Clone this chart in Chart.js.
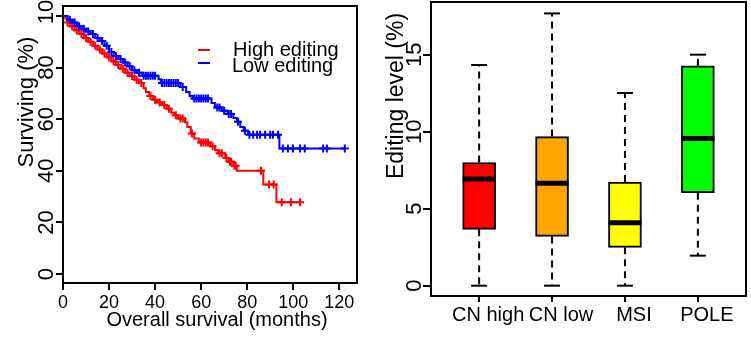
<!DOCTYPE html>
<html><head><meta charset="utf-8">
<script src="https://cdn.jsdelivr.net/npm/chart.js@4/dist/chart.umd.min.js"></script>
<style>
html,body{margin:0;padding:0;background:#fff;}
#wrap{position:relative;width:751px;height:339px;overflow:hidden;background:#fff;}
.p{position:absolute;top:0;}
</style></head><body>
<div id="wrap">
<div class="p" style="left:0;width:370px;height:339px"><canvas id="c1" width="370" height="339"></canvas></div>
<div class="p" style="left:370px;width:381px;height:339px"><canvas id="c2" width="381" height="339"></canvas></div>
</div>
<script>
// ---------- Kaplan-Meier data (month, survival %) ----------
const highEvents = [[0,100],[1,99],[2,97.5],[3,96],[5,94.5],[7,93],[9,91.5],[11,90],[13,88.5],[15,87],[17,85.5],[19,84],[21,82.5],[23,81],[25,79.5],[27,78],[29,76.7],[31,75.3],[33,74],[35,72],[36,70.5],[37.5,69],[39,67.5],[41,66.5],[43,65.5],[45,64],[47,62.5],[48.5,61.5],[50,60.3],[53,58.8],[54,57],[55.5,54.5],[57,52.5],[59,51],[64,49.5],[66,48],[67.5,46.8],[70.5,45],[72,43.5],[74,42],[75.5,40],[87,34.7],[92.7,27.8]];
const highCensor = [2,4,6,8,10,12,14,16,18,20,22,24,26,28,30,32,34,38,40,42,44,46,49,51,52,56,60,61,62,63,65,68,69,71,72.5,73,74.5,75,86,89.5,91.5,95,99,103];
const lowEvents = [[0,100],[2,98.5],[4,97.5],[6,96],[8,95],[10,94],[12,93],[14,91.5],[16,90.3],[18,88.5],[20,86],[22,84.5],[24,83.3],[26,82],[28,80.5],[30,79],[32,78],[34.5,76.8],[41.5,75.5],[42.5,74],[51,72.5],[53.5,70.5],[55,69],[56.5,68],[64.5,66.3],[66,64.5],[69,63.3],[71.5,62],[74,60.5],[75.5,59],[77,57],[78.5,55.5],[80.4,54],[94,48.6]];
const lowCensor = [3,5,7,9,11,13,15,17,19,21,23,25,27,29,31,33,35,36,37,38,39,40,43,44,45,46,47,48,49,50,52,57,58,59,60,61,62,63,67,68,70,72,73,76,79,81,82.6,84.3,85.6,87.8,90,91.2,93.4,95.5,97.7,99.9,103,105,113,114.6,122.4];
const kmTicksX = [0,20,40,60,80,100,120];
const kmTicksY = [0,20,40,60,80,100];
const seriesNames = ['High editing','Low editing'];

// ---------- Box plot data (editing level %) ----------
const boxCategories = ['CN high','CN low','MSI','POLE'];
const whiskerLow  = [0,0,0,1.95];
const q1          = [3.66,3.2,2.49,6.04];
const median      = [6.93,6.65,4.09,9.56];
const q3          = [8.0,9.68,6.73,14.27];
const whiskerHigh = [14.33,17.68,12.51,15.0];
const boxTicksY = [0,5,10,15];

const FONT = '"Liberation Sans", Arial, Helvetica, sans-serif';
Chart.defaults.font.family = FONT;
Chart.defaults.color = '#000';
Chart.defaults.animation = false;

function survAt(ev, t){ let s = ev[0][1]; for (const [m,p] of ev){ if (m <= t) s = p; else break; } return s; }
function lineData(ev, cens){ const pts = ev.map(([m,p])=>({x:m,y:p})); const last = cens[cens.length-1]; pts.push({x:last,y:survAt(ev,last)}); return pts; }
function censData(ev, cens){ return cens.map(t=>({x:t,y:survAt(ev,t)})); }

function rotText(ctx, txt, x, y, size){
  ctx.save(); ctx.translate(x,y); ctx.rotate(-Math.PI/2);
  ctx.font = size+'px '+FONT; ctx.fillStyle='#000'; ctx.textAlign='center'; ctx.textBaseline='middle';
  ctx.fillText(txt,0,0); ctx.restore();
}

const frame = {id:'frame', afterDraw(c){ const a=c.chartArea, ctx=c.ctx; ctx.save(); ctx.strokeStyle='#000'; ctx.lineWidth=2; ctx.strokeRect(a.left,a.top,a.right-a.left,a.bottom-a.top); ctx.restore(); }};

const kmDecor = {id:'kmDecor', afterDraw(c){
  const ctx=c.ctx, ys=c.scales.y;
  kmTicksY.forEach(v=>{ let y = ys.getPixelForValue(v); if (v===100) y -= 10; rotText(ctx, String(v), 47, y, 22); });
  rotText(ctx, 'Surviving (%)', 27, 102, 22);
  ctx.save();
  ctx.font='20px '+FONT; ctx.fillStyle='#000'; ctx.textBaseline='middle'; ctx.textAlign='center';
  ctx.fillText('Overall survival (months)', 217, 320);
  // legend
  ctx.lineWidth=2;
  [['#ff0000',50],['#0000ff',63]].forEach(([col,y])=>{ctx.strokeStyle=col;ctx.beginPath();ctx.moveTo(198,y);ctx.lineTo(210,y);ctx.stroke();});
  ctx.textAlign='left';
  ctx.fillText(seriesNames[0],233,50); ctx.fillText(seriesNames[1],232,66);
  ctx.restore();
}};

new Chart(document.getElementById('c1'), {
  type:'line',
  data:{datasets:[
    {data:lineData(lowEvents,lowCensor), borderColor:'#0000ff', borderWidth:2, stepped:true, pointRadius:0, fill:false},
    {type:'scatter', data:censData(lowEvents,lowCensor), pointStyle:'cross', pointRadius:4, borderColor:'#0000ff', borderWidth:2},
    {data:lineData(highEvents,highCensor), borderColor:'#ff0000', borderWidth:2, stepped:true, pointRadius:0, fill:false},
    {type:'scatter', data:censData(highEvents,highCensor), pointStyle:'cross', pointRadius:4, borderColor:'#ff0000', borderWidth:2}
  ]},
  options:{responsive:false, animation:false, events:[],
    layout:{padding:{left:0,top:5,right:13,bottom:0}},
    plugins:{legend:{display:false}, tooltip:{enabled:false}},
    scales:{
      x:{type:'linear', min:0, max:127.7,
        afterBuildTicks(s){ s.ticks = kmTicksX.map(v=>({value:v})); },
        afterFit(s){ s.height = 56; },
        grid:{display:true, drawOnChartArea:false, drawTicks:true, tickLength:7, color:'#000', lineWidth:2},
        border:{display:true, color:'#000', width:2},
        ticks:{font:{size:18}, color:'#000', padding:2, maxRotation:0, autoSkip:false}
      },
      y:{type:'linear', min:-3.47, max:103.86,
        afterBuildTicks(s){ s.ticks = kmTicksY.map(v=>({value:v})); },
        afterFit(s){ s.width = 63; },
        grid:{display:true, drawOnChartArea:false, drawTicks:true, tickLength:7, color:'#000', lineWidth:2},
        border:{display:true, color:'#000', width:2},
        ticks:{display:false}
      }
    }
  },
  plugins:[frame, kmDecor]
});

const boxDecor = {id:'boxDecor',
  afterDatasetsDraw(c){
    const ctx=c.ctx, xs=c.scales.x, ys=c.scales.y;
    ctx.save(); ctx.strokeStyle='#000';
    boxCategories.forEach((n,i)=>{
      const x = xs.getPixelForValue(i+1);
      ctx.lineWidth=2; ctx.setLineDash([7,5]);
      ctx.beginPath(); ctx.moveTo(x, ys.getPixelForValue(q3[i])); ctx.lineTo(x, ys.getPixelForValue(whiskerHigh[i])); ctx.stroke();
      ctx.beginPath(); ctx.moveTo(x, ys.getPixelForValue(q1[i])); ctx.lineTo(x, ys.getPixelForValue(whiskerLow[i])); ctx.stroke();
      ctx.setLineDash([]);
      [whiskerHigh[i], whiskerLow[i]].forEach(v=>{ const y=ys.getPixelForValue(v); ctx.beginPath(); ctx.moveTo(x-8,y); ctx.lineTo(x+8,y); ctx.stroke(); });
      ctx.lineWidth=5; const ym=ys.getPixelForValue(median[i]);
      ctx.beginPath(); ctx.moveTo(x-16.5,ym); ctx.lineTo(x+16.5,ym); ctx.stroke();
    });
    ctx.restore();
  },
  afterDraw(c){
    const ctx=c.ctx, ys=c.scales.y;
    boxTicksY.forEach(v=>rotText(ctx, String(v), 45, ys.getPixelForValue(v), 22));
    rotText(ctx, 'Editing level (%)', 27, 96, 23);
  }
};

new Chart(document.getElementById('c2'), {
  type:'bar',
  data:{datasets:[{
    data: boxCategories.map((n,i)=>({x:i+1, y:[q1[i], q3[i]]})),
    backgroundColor:['#ff0000','#ffa500','#ffff00','#00ff00'],
    borderColor:'#000', borderWidth:2, borderSkipped:false, barThickness:33
  }]},
  options:{responsive:false, animation:false, events:[],
    layout:{padding:{left:0,top:2,right:5,bottom:0}},
    plugins:{legend:{display:false}, tooltip:{enabled:false}},
    scales:{
      x:{type:'linear', min:0.34, max:4.66, offset:false,
        afterBuildTicks(s){ s.ticks = boxCategories.map((n,i)=>({value:i+1})); },
        afterFit(s){ s.height = 43; },
        grid:{display:true, offset:false, drawOnChartArea:false, drawTicks:true, tickLength:6, color:'#000', lineWidth:2},
        border:{display:true, color:'#000', width:2},
        ticks:{font:{size:20}, color:'#000', padding:1, maxRotation:0, autoSkip:false, labelOffset:9,
          callback:(v)=>boxCategories[Math.round(v)-1]}
      },
      y:{type:'linear', min:-0.67, max:18.42,
        afterBuildTicks(s){ s.ticks = boxTicksY.map(v=>({value:v})); },
        afterFit(s){ s.width = 61; },
        grid:{display:true, drawOnChartArea:false, drawTicks:true, tickLength:8, color:'#000', lineWidth:2},
        border:{display:true, color:'#000', width:2},
        ticks:{display:false}
      }
    }
  },
  plugins:[frame, boxDecor]
});
</script>
</body></html>
